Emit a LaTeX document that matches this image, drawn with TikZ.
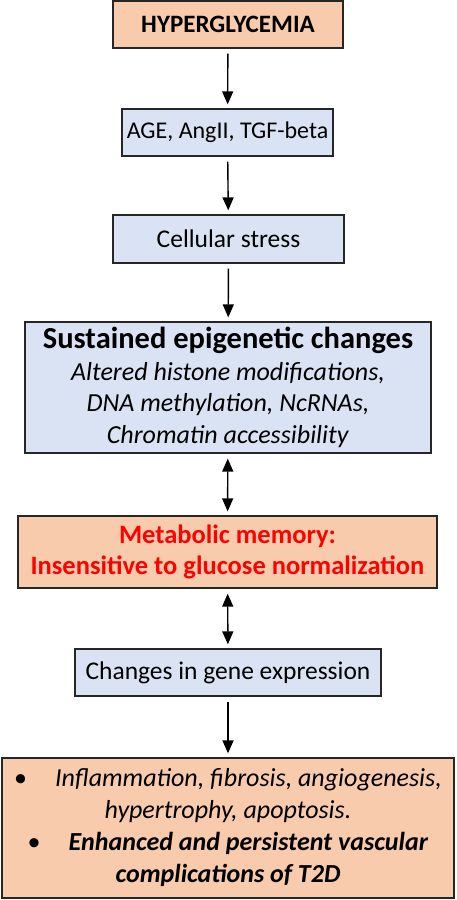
\documentclass[tikz,border=0pt]{standalone}
\usepackage{fontspec}
\setmainfont{Carlito}
\usetikzlibrary{arrows.meta}

\definecolor{peach}{HTML}{F8CBAD}
\definecolor{paleblue}{HTML}{DAE3F3}
\definecolor{memred}{HTML}{FF0000}

\tikzset{
  box/.style={draw=black!85, line width=1.3pt, inner sep=0pt, align=center},
  orangebox/.style={box, fill=peach},
  bluebox/.style={box, fill=paleblue},
  arr/.style={line width=1.4pt, -{Triangle[width=11pt,length=13pt]}, shorten <=5pt, shorten >=4pt},
  darr/.style={line width=1.4pt, {Triangle[width=11pt,length=13pt]}-{Triangle[width=11pt,length=13pt]}, shorten <=5pt, shorten >=4pt},
}

\begin{document}
\begin{tikzpicture}[x=1pt,y=-1pt]
\useasboundingbox (0,0) rectangle (456,900);

% boxes, top to bottom
\node[orangebox, minimum width=230pt, minimum height=47pt, font=\fontsize{25}{30}\selectfont\bfseries] (hyper) at (228,24.5) {HYPERGLYCEMIA};
\node[bluebox, minimum width=211pt, minimum height=47pt, font=\fontsize{24}{30}\selectfont] (age) at (227.5,132.5) {AGE, AngII, TGF-beta};
\node[bluebox, minimum width=231pt, minimum height=48pt, font=\fontsize{25.5}{30}\selectfont] (stress) at (228.5,239) {Cellular stress};
\node[bluebox, minimum width=406pt, minimum height=131pt, font=\fontsize{26}{31.5}\selectfont] (epi) at (228,387.5)
  {{\fontsize{30.5}{34}\selectfont\bfseries Sustained epigenetic changes}\\
   \textit{Altered histone modifications,}\\
   \textit{DNA methylation, NcRNAs,}\\
   \textit{Chromatin accessibility}};
\node[orangebox, minimum width=419pt, minimum height=72pt, text=memred, font=\fontsize{26.5}{31}\selectfont\bfseries] (memory) at (227.5,552)
  {Metabolic memory:\\ Insensitive to glucose normalization};
\node[bluebox, minimum width=306pt, minimum height=47pt, font=\fontsize{25.5}{30}\selectfont] (gene) at (228,672.5) {Changes in gene expression};
\node[orangebox, minimum width=452pt, minimum height=140pt, font=\fontsize{26}{32}\selectfont] (outcome) at (228,828)
  {\textbullet\hspace{28pt}\textit{Inflammation, fibrosis, angiogenesis,}\\
   \textit{hypertrophy, apoptosis.}\\
   \textbullet\hspace{28pt}\textbf{\textit{Enhanced and persistent vascular}}\\
   \textbf{\textit{complications of T2D}}};

% arrows
\draw[arr] (hyper) -- (age);
\draw[arr] (age) -- (stress);
\draw[arr] (stress) -- (epi);
\draw[darr] (epi) -- (memory);
\draw[darr] (memory) -- (gene);
\draw[arr] (gene) -- (outcome);

\end{tikzpicture}
\end{document}
